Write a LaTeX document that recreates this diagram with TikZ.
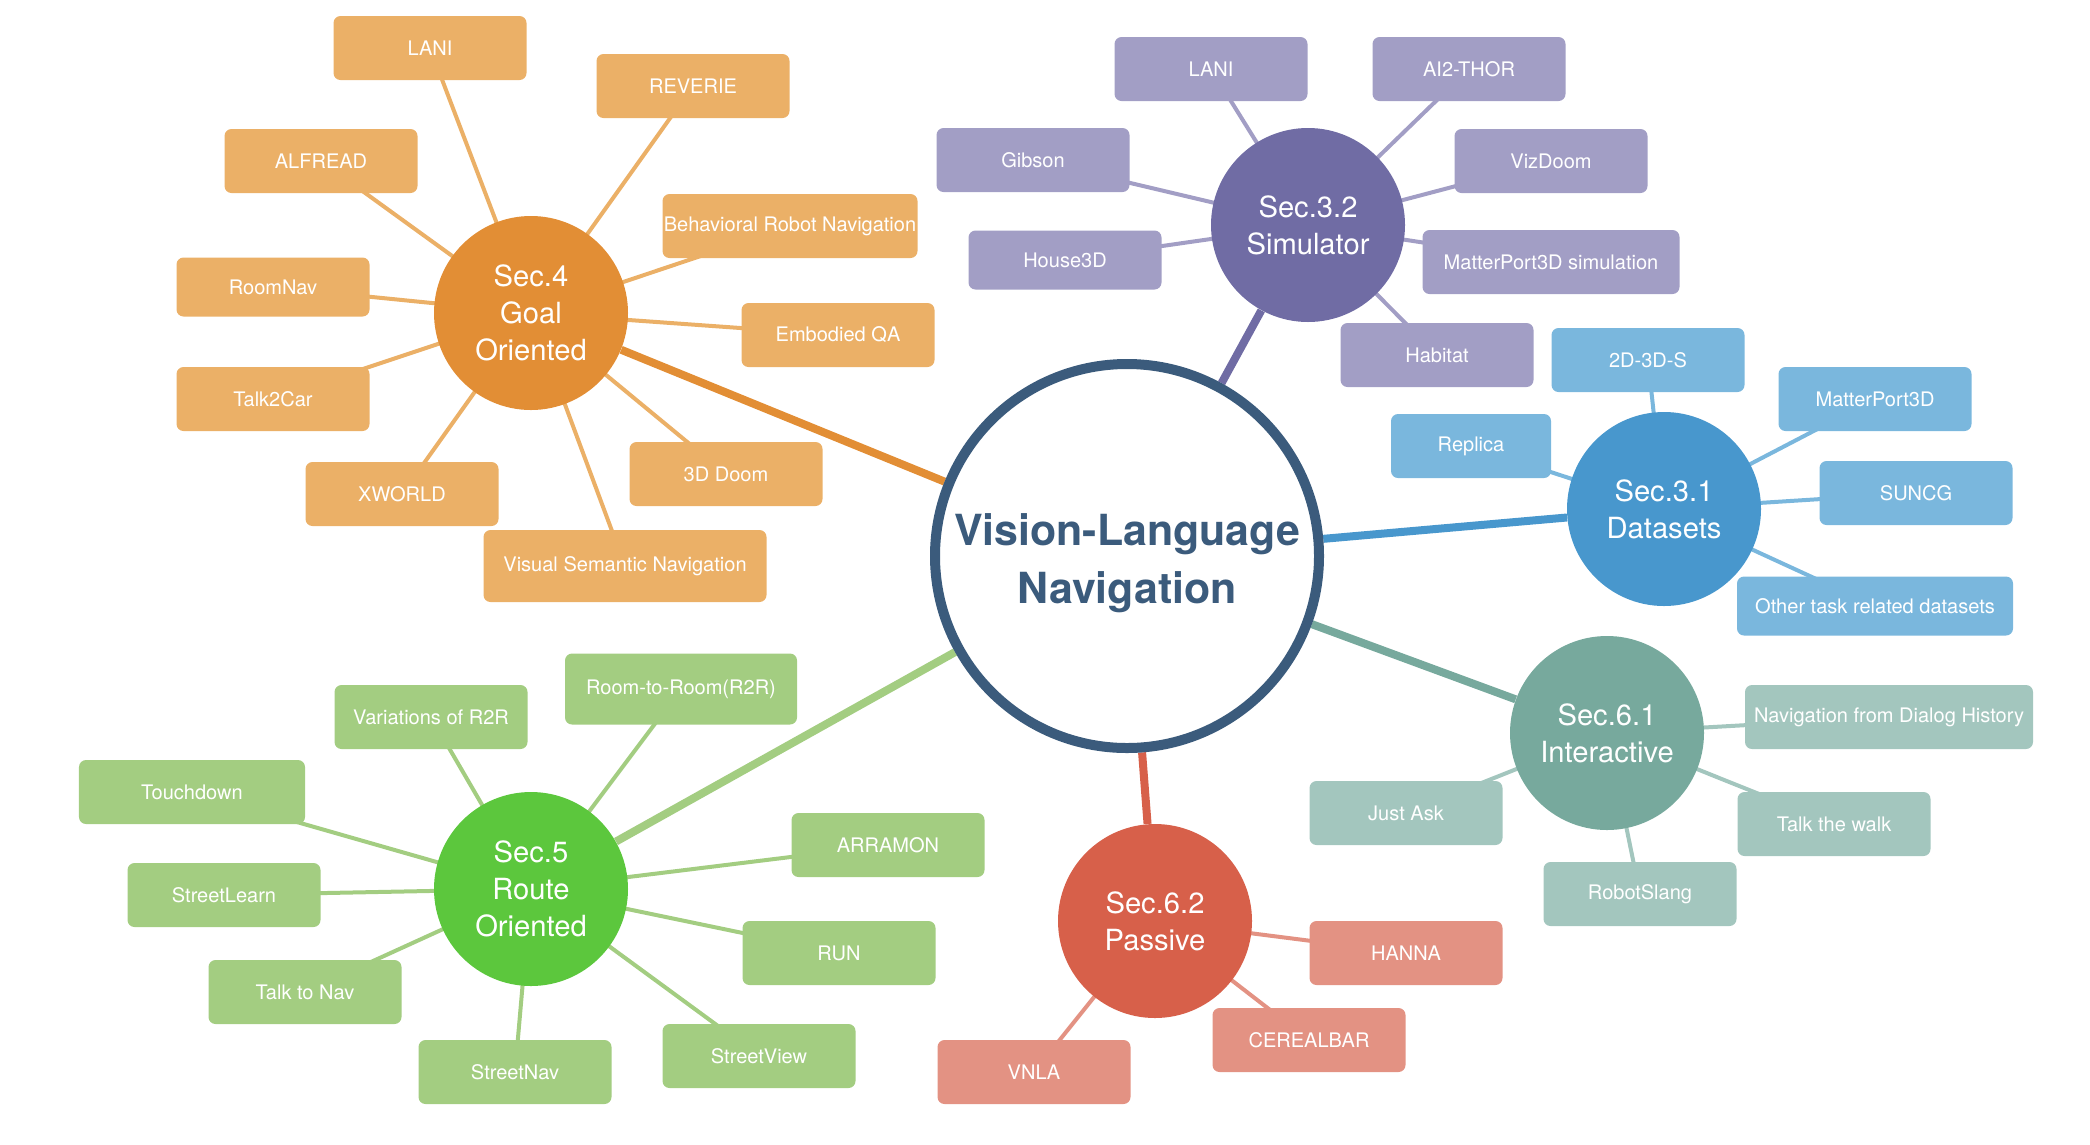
\documentclass[tikz,border=0pt]{standalone}
\usepackage{fontspec}
\setmainfont{TeX Gyre Heros}
\usetikzlibrary{backgrounds}

\definecolor{hubblue}{RGB}{59,91,124}
\definecolor{goalD}{RGB}{226,142,53}
\definecolor{goalL}{RGB}{235,176,103}
\definecolor{simD}{RGB}{112,108,164}
\definecolor{simL}{RGB}{162,158,197}
\definecolor{dataD}{RGB}{72,151,205}
\definecolor{dataL}{RGB}{122,183,221}
\definecolor{interD}{RGB}{119,169,157}
\definecolor{interL}{RGB}{163,198,190}
\definecolor{passD}{RGB}{215,96,74}
\definecolor{passL}{RGB}{227,146,131}
\definecolor{routeD}{RGB}{92,199,61}
\definecolor{routeL}{RGB}{163,205,129}

\begin{document}
\begin{tikzpicture}[
    x=0.2mm, y=-0.2mm,
    hub/.style={
        circle,
        draw=hubblue,
        fill=white,
        line width=2mm,
        minimum size=76.8mm,
        inner sep=0pt,
        align=center,
        text=hubblue,
        font=\fontsize{24.4}{33}\selectfont\bfseries
    },
    sec/.style={
        circle,
        minimum size=38.8mm,
        inner sep=0pt,
        align=center,
        text=white,
        font=\fontsize{16.6}{21}\selectfont
    },
    leaf/.style={
        rounded corners=1.4mm,
        minimum width=38.6mm,
        minimum height=12.8mm,
        inner sep=0pt,
        align=center,
        text=white,
        font=\fontsize{11.4}{13.7}\selectfont
    },
    spoke/.style={line width=1.6mm},
    twig/.style={line width=0.8mm}
]

\useasboundingbox (0,0) rectangle (2090,1144);

% Central topic
\node[hub] (vln) at (1127,556) {\rule{0pt}{26.5pt}Vision-Language\\Navigation};

% Section circles
\node[sec, fill=goalD] (sec_goal) at (531,313) {Sec.4\\Goal\\Oriented};
\node[sec, fill=simD] (sec_sim) at (1308,225) {Sec.3.2\\Simulator};
\node[sec, fill=dataD] (sec_data) at (1664,509) {Sec.3.1\\Datasets};
\node[sec, fill=interD] (sec_inter) at (1607,733) {Sec.6.1\\Interactive};
\node[sec, fill=passD] (sec_pass) at (1155,921) {Sec.6.2\\Passive};
\node[sec, fill=routeD] (sec_route) at (531,889) {Sec.5\\Route\\Oriented};

% Goal oriented leaves
\node[leaf, fill=goalL] (goal_lani) at (430,48) {LANI};
\node[leaf, fill=goalL] (goal_reverie) at (693,86) {REVERIE};
\node[leaf, fill=goalL] (goal_alfread) at (321,161) {ALFREAD};
\node[leaf, fill=goalL, minimum width=51mm] (goal_brn) at (790,226) {Behavioral Robot Navigation};
\node[leaf, fill=goalL, minimum height=11.8mm] (goal_roomnav) at (273,287) {RoomNav};
\node[leaf, fill=goalL] (goal_eqa) at (838,335) {Embodied QA};
\node[leaf, fill=goalL] (goal_talkcar) at (273,399) {Talk2Car};
\node[leaf, fill=goalL] (goal_xworld) at (402,494) {XWORLD};
\node[leaf, fill=goalL] (goal_doom) at (726,474) {3D Doom};
\node[leaf, fill=goalL, minimum width=56.6mm, minimum height=14.4mm] (goal_vsn) at (625,566) {Visual Semantic Navigation};

% Simulator leaves
\node[leaf, fill=simL] (sim_lani) at (1211,69) {LANI};
\node[leaf, fill=simL] (sim_thor) at (1469,69) {AI2-THOR};
\node[leaf, fill=simL] (sim_gibson) at (1033,160) {Gibson};
\node[leaf, fill=simL] (sim_vizdoom) at (1551,161) {VizDoom};
\node[leaf, fill=simL, minimum height=11.8mm] (sim_house) at (1065,260) {House3D};
\node[leaf, fill=simL, minimum width=51.4mm] (sim_mp3d) at (1551,262) {MatterPort3D simulation};
\node[leaf, fill=simL] (sim_habitat) at (1437,355) {Habitat};

% Dataset leaves
\node[leaf, fill=dataL] (data_s3d) at (1648,360) {2D-3D-S};
\node[leaf, fill=dataL] (data_mp3d) at (1875,399) {MatterPort3D};
\node[leaf, fill=dataL, minimum width=32mm] (data_replica) at (1471,446) {Replica};
\node[leaf, fill=dataL] (data_suncg) at (1916,493) {SUNCG};
\node[leaf, fill=dataL, minimum width=55.2mm, minimum height=11.8mm] (data_other) at (1875,606) {Other task related datasets};

% Interactive leaves
\node[leaf, fill=interL, minimum width=57.6mm] (inter_nfdh) at (1889,717) {Navigation from Dialog History};
\node[leaf, fill=interL] (inter_ask) at (1406,813) {Just Ask};
\node[leaf, fill=interL] (inter_walk) at (1834,824) {Talk the walk};
\node[leaf, fill=interL] (inter_slang) at (1640,894) {RobotSlang};

% Passive leaves
\node[leaf, fill=passL] (pass_hanna) at (1406,953) {HANNA};
\node[leaf, fill=passL] (pass_cereal) at (1309,1040) {CEREALBAR};
\node[leaf, fill=passL] (pass_vnla) at (1034,1072) {VNLA};

% Route oriented leaves
\node[leaf, fill=routeL, minimum width=46.4mm, minimum height=14.2mm] (route_r2r) at (681,689) {Room-to-Room(R2R)};
\node[leaf, fill=routeL] (route_var) at (431,717) {Variations of R2R};
\node[leaf, fill=routeL, minimum width=45.2mm] (route_touch) at (192,792) {Touchdown};
\node[leaf, fill=routeL] (route_arramon) at (888,845) {ARRAMON};
\node[leaf, fill=routeL] (route_learn) at (224,895) {StreetLearn};
\node[leaf, fill=routeL] (route_run) at (839,953) {RUN};
\node[leaf, fill=routeL] (route_talknav) at (305,992) {Talk to Nav};
\node[leaf, fill=routeL] (route_view) at (759,1056) {StreetView};
\node[leaf, fill=routeL] (route_nav) at (515,1072) {StreetNav};

% Connections
\begin{scope}[on background layer]
    \draw[spoke, goalD] (vln) -- (sec_goal);
    \draw[spoke, simD] (vln) -- (sec_sim);
    \draw[spoke, dataD] (vln) -- (sec_data);
    \draw[spoke, interD] (vln) -- (sec_inter);
    \draw[spoke, passD] (vln) -- (sec_pass);
    \draw[spoke, routeL] (vln) -- (sec_route);

    \draw[twig, goalL] (sec_goal.center) -- (goal_lani.center);
    \draw[twig, goalL] (sec_goal.center) -- (goal_reverie.center);
    \draw[twig, goalL] (sec_goal.center) -- (goal_alfread.center);
    \draw[twig, goalL] (sec_goal.center) -- (goal_brn.center);
    \draw[twig, goalL] (sec_goal.center) -- (goal_roomnav.center);
    \draw[twig, goalL] (sec_goal.center) -- (goal_eqa.center);
    \draw[twig, goalL] (sec_goal.center) -- (goal_talkcar.center);
    \draw[twig, goalL] (sec_goal.center) -- (goal_xworld.center);
    \draw[twig, goalL] (sec_goal.center) -- (goal_doom.center);
    \draw[twig, goalL] (sec_goal.center) -- (goal_vsn.center);

    \draw[twig, simL] (sec_sim.center) -- (sim_lani.center);
    \draw[twig, simL] (sec_sim.center) -- (sim_thor.center);
    \draw[twig, simL] (sec_sim.center) -- (sim_gibson.center);
    \draw[twig, simL] (sec_sim.center) -- (sim_vizdoom.center);
    \draw[twig, simL] (sec_sim.center) -- (sim_house.center);
    \draw[twig, simL] (sec_sim.center) -- (sim_mp3d.center);
    \draw[twig, simL] (sec_sim.center) -- (sim_habitat.center);

    \draw[twig, dataL] (sec_data.center) -- (data_s3d.center);
    \draw[twig, dataL] (sec_data.center) -- (data_mp3d.center);
    \draw[twig, dataL] (sec_data.center) -- (data_replica.center);
    \draw[twig, dataL] (sec_data.center) -- (data_suncg.center);
    \draw[twig, dataL] (sec_data.center) -- (data_other.center);

    \draw[twig, interL] (sec_inter.center) -- (inter_nfdh.center);
    \draw[twig, interL] (sec_inter.center) -- (inter_ask.center);
    \draw[twig, interL] (sec_inter.center) -- (inter_walk.center);
    \draw[twig, interL] (sec_inter.center) -- (inter_slang.center);

    \draw[twig, passL] (sec_pass.center) -- (pass_hanna.center);
    \draw[twig, passL] (sec_pass.center) -- (pass_cereal.center);
    \draw[twig, passL] (sec_pass.center) -- (pass_vnla.center);

    \draw[twig, routeL] (sec_route.center) -- (route_r2r.center);
    \draw[twig, routeL] (sec_route.center) -- (route_var.center);
    \draw[twig, routeL] (sec_route.center) -- (route_touch.center);
    \draw[twig, routeL] (sec_route.center) -- (route_arramon.center);
    \draw[twig, routeL] (sec_route.center) -- (route_learn.center);
    \draw[twig, routeL] (sec_route.center) -- (route_run.center);
    \draw[twig, routeL] (sec_route.center) -- (route_talknav.center);
    \draw[twig, routeL] (sec_route.center) -- (route_view.center);
    \draw[twig, routeL] (sec_route.center) -- (route_nav.center);
\end{scope}

\end{tikzpicture}
\end{document}
